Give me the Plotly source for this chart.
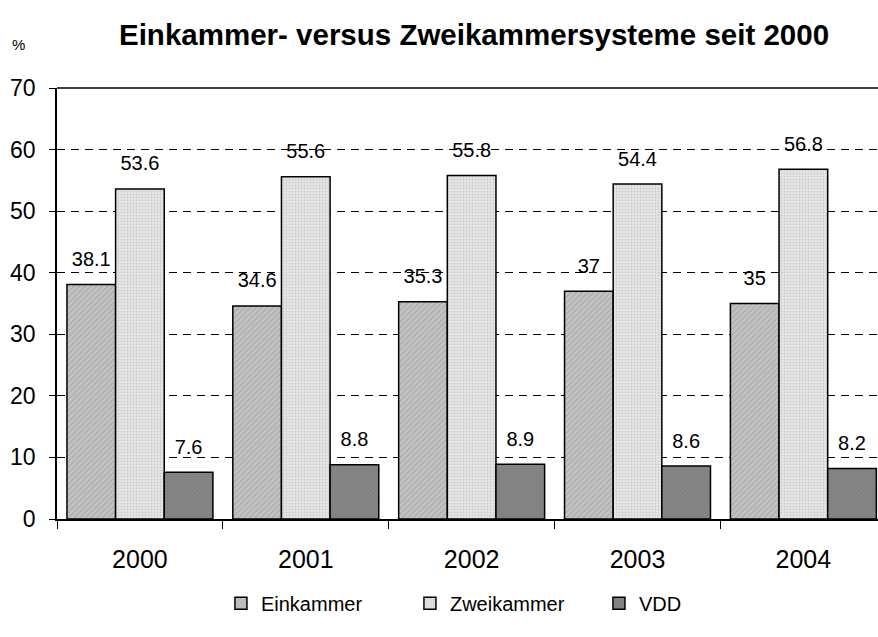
import plotly.graph_objects as go

years = ["2000", "2001", "2002", "2003", "2004"]
einkammer = [38.1, 34.6, 35.3, 37, 35]
zweikammer = [53.6, 55.6, 55.8, 54.4, 56.8]
vdd = [7.6, 8.8, 8.9, 8.6, 8.2]

series = [
    ("Einkammer", einkammer, dict(shape="/", bgcolor="#c2c2c2", fgcolor="#888888", size=4, solidity=0.25)),
    ("Zweikammer", zweikammer, dict(shape=".", bgcolor="#e6e6e6", fgcolor="#b0b0b0", size=3, solidity=0.3)),
    ("VDD", vdd, dict(shape="x", bgcolor="#868686", fgcolor="#5a5a5a", size=3, solidity=0.2)),
]

FONT = "Liberation Sans, Arial, sans-serif"

fig = go.Figure()

for name, vals, pat in series:
    fig.add_trace(go.Bar(
        x=years, y=vals, name=name, offsetgroup=name,
        marker=dict(color=pat["bgcolor"], pattern=pat,
                    line=dict(color="black", width=1.5)),
        hoverinfo="x+y+name",
    ))

# value labels, grouped like the bars and lifted a bit above them
for name, vals, _ in series:
    fig.add_trace(go.Scatter(
        x=years, y=vals, offsetgroup=name, mode="markers+text",
        text=[f"{v:g}" for v in vals], textposition="top center",
        textfont=dict(size=20, color="black", family=FONT),
        marker=dict(size=20, color="rgba(0,0,0,0)"),
        showlegend=False, hoverinfo="skip", cliponaxis=False,
    ))

fig.add_annotation(
    text="<b>Einkammer- versus Zweikammersysteme seit 2000</b>",
    xref="paper", yref="paper", x=0, y=1, xshift=60, yshift=54,
    xanchor="left", yanchor="middle", showarrow=False,
    font=dict(size=29.5, color="black", family=FONT),
)
fig.add_annotation(
    text="%", xref="paper", yref="paper", x=0, y=1, xshift=-39, yshift=44,
    xanchor="center", yanchor="middle", showarrow=False,
    font=dict(size=15, color="black", family=FONT),
)

# top frame line
fig.add_shape(type="line", xref="paper", yref="paper", x0=0, x1=1, y0=1, y1=1,
              line=dict(color="black", width=1.5))

fig.update_layout(
    width=878, height=637,
    margin=dict(l=57, r=0, t=88, b=118),
    paper_bgcolor="white", plot_bgcolor="white",
    barmode="group", bargap=0.12, bargroupgap=0,
    scattermode="group", scattergap=0.12,
    font=dict(family=FONT, color="black"),
    showlegend=True,
    legend=dict(
        orientation="h", xref="paper", yref="container",
        x=0.545, xanchor="center", y=0.053, yanchor="middle",
        font=dict(size=20), entrywidth=144, traceorder="normal",
    ),
    xaxis=dict(
        type="category", range=[-0.5, 4.45],
        showline=True, linecolor="black", linewidth=1.5,
        ticks="outside", tickson="boundaries", ticklen=8, tickcolor="black",
        tickfont=dict(size=25), ticklabelstandoff=17, showgrid=False,
    ),
    yaxis=dict(
        range=[0, 70], dtick=10,
        showline=True, linecolor="black", linewidth=1.5,
        ticks="outside", ticklen=6, tickcolor="black",
        tickfont=dict(size=23), ticklabelstandoff=9,
        showgrid=True, gridcolor="black", gridwidth=1, griddash="8px,6px",
        zeroline=False,
    ),
)

fig.write_html(
    "out.html",
    config={"displayModeBar": False},
    post_script="document.body.style.margin='0';document.body.style.overflow='hidden';",
)
